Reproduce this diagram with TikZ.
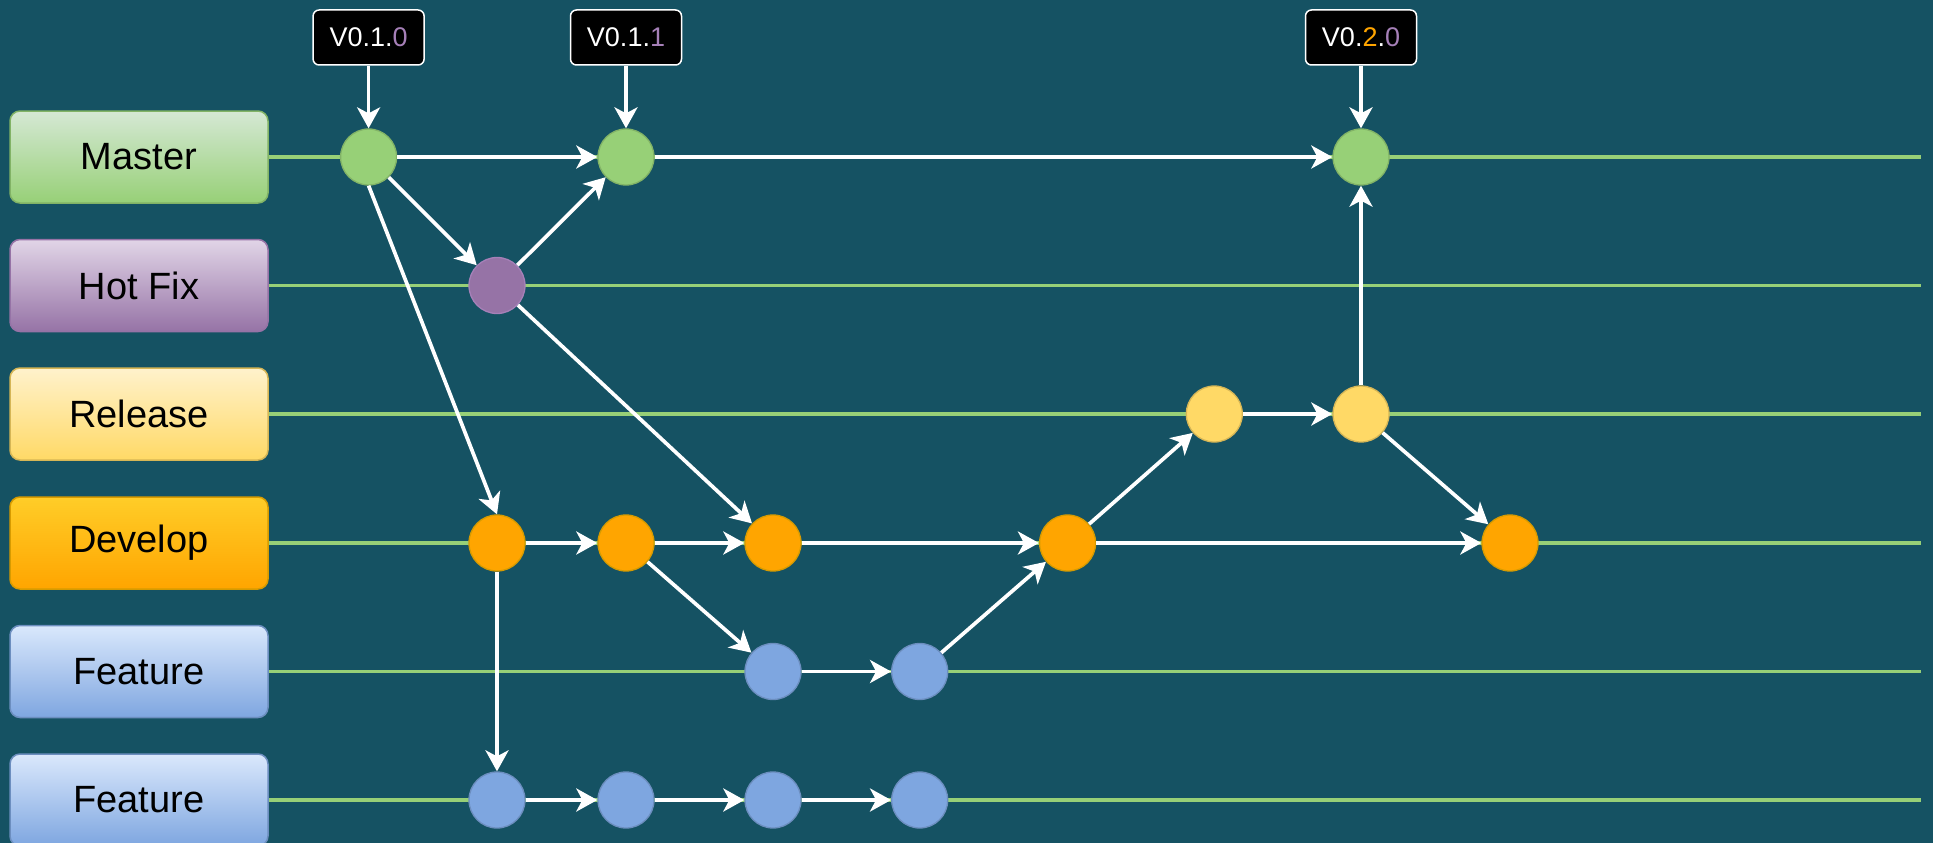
\documentclass[tikz,border=0pt]{standalone}
\usepackage{fontspec}
\setmainfont{Liberation Sans}
\usetikzlibrary{arrows.meta}
\definecolor{bg}{HTML}{155263}
\definecolor{lanegreen}{HTML}{97D077}
\definecolor{gfill}{HTML}{97D077}\definecolor{gdraw}{HTML}{82B366}\definecolor{gtop}{HTML}{D5E8D4}
\definecolor{pfill}{HTML}{9673A6}\definecolor{pdraw}{HTML}{A680B8}\definecolor{ptop}{HTML}{E1D5E7}
\definecolor{yfill}{HTML}{FFD966}\definecolor{ydraw}{HTML}{D6B656}\definecolor{ytop}{HTML}{FFF2CC}
\definecolor{ofill}{HTML}{FFA500}\definecolor{odraw}{HTML}{D79B00}\definecolor{otop}{HTML}{FFCD28}
\definecolor{bfill}{HTML}{7EA6E0}\definecolor{bdraw}{HTML}{6C8EBF}\definecolor{btop}{HTML}{DAE8FC}
\definecolor{tagpurple}{HTML}{A680B8}
\definecolor{tagorange}{HTML}{FFA500}
\tikzset{
  branch/.style={rounded corners=10pt, minimum width=258pt, minimum height=92pt, line width=1.5pt,
    font=\fontsize{38}{40}\selectfont, text=black, inner sep=0pt},
  commit/.style={circle, minimum size=56pt, inner sep=0pt, line width=1.3pt},
  gc/.style={commit, fill=gfill, draw=gdraw},
  pc/.style={commit, fill=pfill, draw=pdraw},
  yc/.style={commit, fill=yfill, draw=ydraw},
  oc/.style={commit, fill=ofill, draw=odraw},
  bc/.style={commit, fill=bfill, draw=bdraw},
  tagbox/.style={fill=black, draw=white, line width=1.5pt, rounded corners=6pt, minimum width=111pt,
    minimum height=55pt, text=white, font=\fontsize{27}{30}\selectfont, inner sep=0pt},
  arr/.style={draw=white, line width=3.7pt, -{Stealth[length=21pt,width=23pt,inset=6pt]}},
  lane/.style={draw=lanegreen, line width=3.7pt}
}
\begin{document}
\begin{tikzpicture}[x=1pt,y=-1pt]
\fill[bg] (0,0) rectangle (1933,843);
\useasboundingbox (0,0) rectangle (1933,843);
% branch boxes
\node[branch, top color=gtop, bottom color=gfill, draw=gdraw] (bm) at (139,157) {Master};
\node[branch, top color=ptop, bottom color=pfill, draw=pfill] (bh) at (139,285.5) {Hot Fix};
\node[branch, top color=ytop, bottom color=yfill, draw=ydraw] (br) at (139,414) {Release};
\node[branch, top color=otop, bottom color=ofill, draw=odraw] (bd) at (139,543) {Develop};
\node[branch, top color=btop, bottom color=bfill, draw=bdraw] (bf1) at (139,671.5) {Feature};
\node[branch, top color=btop, bottom color=bfill, draw=bdraw] (bf2) at (139,800) {Feature};
% lane ends
\coordinate (em) at (1921,157);
\coordinate (eh) at (1921,285.5);
\coordinate (er) at (1921,414);
\coordinate (ed) at (1921,543);
\coordinate (ef1) at (1921,671.5);
\coordinate (ef2) at (1921,800);
\draw[lane] (bm.east) -- (em);
\draw[lane] (bh.east) -- (eh);
\draw[lane] (br.east) -- (er);
\draw[lane] (bd.east) -- (ed);
\draw[lane] (bf1.east) -- (ef1);
\draw[lane] (bf2.east) -- (ef2);
% commits
\node[gc] (m1) at (368.6,157) {};
\node[gc] (m2) at (626,157) {};
\node[gc] (m3) at (1361,157) {};
\node[pc] (h1) at (497,285.5) {};
\node[yc] (r1) at (1214.3,414) {};
\node[yc] (r2) at (1361,414) {};
\node[oc] (d1) at (497,543) {};
\node[oc] (d2) at (626,543) {};
\node[oc] (d3) at (773,543) {};
\node[oc] (d4) at (1067.6,543) {};
\node[oc] (d5) at (1510,543) {};
\node[bc] (fa1) at (773,671.5) {};
\node[bc] (fa2) at (919.7,671.5) {};
\node[bc] (fb1) at (497,800) {};
\node[bc] (fb2) at (626,800) {};
\node[bc] (fb3) at (773,800) {};
\node[bc] (fb4) at (919.7,800) {};
% tags
\node[tagbox] (t1) at (368.6,37.5) {V0.1.\textcolor{tagpurple}{0}};
\node[tagbox] (t2) at (626,37.5) {V0.1.\textcolor{tagpurple}{1}};
\node[tagbox] (t3) at (1361,37.5) {V0.\textcolor{tagorange}{2}.\textcolor{tagpurple}{0}};
\draw[arr] (t1) -- (m1);
\draw[arr] (t2) -- (m2);
\draw[arr] (t3) -- (m3);
% connectors
\draw[arr] (m1) -- (m2);
\draw[arr] (m2) -- (m3);
\draw[arr] (m1) -- (h1);
\draw[arr] (h1) -- (m2);
\draw[arr] (m1.south) -- (d1.north);
\draw[arr] (h1) -- (d3);
\draw[arr] (d1) -- (d2);
\draw[arr] (d2) -- (d3);
\draw[arr] (d3) -- (d4);
\draw[arr] (d4) -- (d5);
\draw[arr] (d2) -- (fa1);
\draw[arr] (fa1) -- (fa2);
\draw[arr] (fa2) -- (d4);
\draw[arr] (d4) -- (r1);
\draw[arr] (r1) -- (r2);
\draw[arr] (r2) -- (m3);
\draw[arr] (r2) -- (d5);
\draw[arr] (d1) -- (fb1);
\draw[arr] (fb1) -- (fb2);
\draw[arr] (fb2) -- (fb3);
\draw[arr] (fb3) -- (fb4);
\end{tikzpicture}
\end{document}
